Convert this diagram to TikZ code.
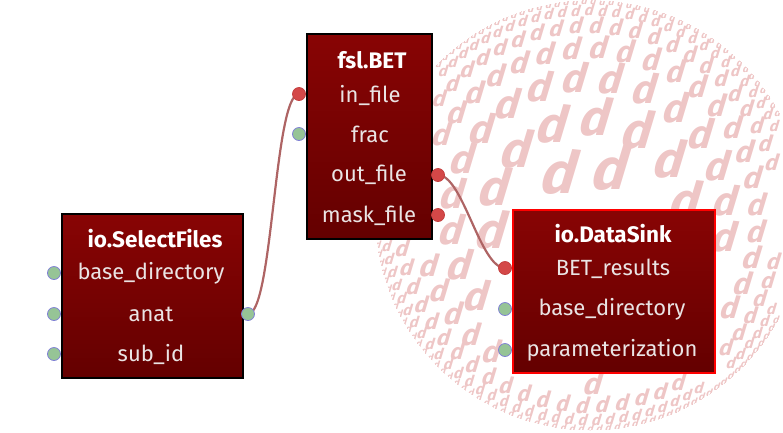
\documentclass[tikz,border=0pt]{standalone}
\usepackage{fontspec}
\setmainfont{Fira Sans}
\usetikzlibrary{backgrounds}

\definecolor{modtop}{RGB}{136,4,4}
\definecolor{modbot}{RGB}{100,0,0}
\definecolor{rowtext}{RGB}{234,228,228}
\definecolor{portgreen}{RGB}{150,196,150}
\definecolor{portblue}{RGB}{128,128,214}
\definecolor{portred}{RGB}{212,72,72}
\definecolor{portredline}{RGB}{196,64,64}
\definecolor{wirecol}{RGB}{174,100,100}
\definecolor{wmcol}{RGB}{238,198,198}

\tikzset{
  modbox/.style={draw=black, line width=1.5pt, top color=modtop, bottom color=modbot,
    anchor=north west, inner sep=0pt},
  modtitle/.style={text=white, font=\fontsize{22.5}{22.5}\selectfont\bfseries},
  portlabel/.style={text=rowtext, font=\fontsize{22}{22}\selectfont},
  freeport/.style={circle, draw=portblue, fill=portgreen, line width=0.8pt,
    minimum size=13pt, inner sep=0pt},
  linkport/.style={circle, draw=portredline, fill=portred, line width=0.8pt,
    minimum size=13pt, inner sep=0pt},
  wire/.style={draw=wirecol, line width=2.2pt},
  wmark/.style={text=wmcol, inner sep=0pt, xslant=0.3}
}

\begin{document}
\begin{tikzpicture}[x=1pt,y=-1pt]
\useasboundingbox (0,0) rectangle (783,432);

% io.SelectFiles
\node[modbox, minimum width=181pt, minimum height=164pt] (selectfiles) at (61,213) {};
\node[modtitle] (sf-title) at (155,239) {io.SelectFiles};
\node[portlabel] (sf-base) at (151,273) {base\_directory};
\node[portlabel] (sf-anat) at (151,314) {anat};
\node[portlabel] (sf-subid) at (151,354) {sub\_id};
\node[freeport] (sf-base-in) at (54,273) {};
\node[freeport] (sf-anat-in) at (54,314) {};
\node[freeport] (sf-subid-in) at (54,354) {};
\node[freeport] (sf-anat-out) at (248,314) {};

% fsl.BET
\node[modbox, minimum width=125pt, minimum height=205pt] (bet) at (306,33) {};
\node[modtitle] (bet-title) at (372,60) {fsl.BET};
\node[portlabel] (bet-in) at (370,95) {in\_file};
\node[portlabel] (bet-frac) at (370,134) {frac};
\node[portlabel] (bet-out) at (369,175) {out\_file};
\node[portlabel] (bet-mask) at (369,216) {mask\_file};
\node[linkport] (bet-in-in) at (299,94) {};
\node[freeport] (bet-frac-in) at (299,134) {};
\node[linkport] (bet-out-out) at (438,175) {};
\node[linkport] (bet-mask-out) at (438,215) {};

% io.DataSink
\node[modbox, draw=red, minimum width=202pt, minimum height=163pt] (datasink) at (512,209) {};
\node[modtitle] (ds-title) at (613,234) {io.DataSink};
\node[portlabel] (ds-bet) at (613,269) {BET\_results};
\node[portlabel] (ds-base) at (612,309) {base\_directory};
\node[portlabel] (ds-param) at (612,350) {parameterization};
\node[linkport] (ds-bet-in) at (505,268) {};
\node[freeport] (ds-base-in) at (505,309) {};
\node[freeport] (ds-param-in) at (505,350) {};

% watermark + wires behind
\begin{scope}[on background layer]
\begin{scope}
\clip (590,215) circle (215);
\foreach \r/\s in {0/62, 52/58, 98/50, 138/40, 168/30, 190/22, 205/15, 214/10} {
  \pgfmathtruncatemacro{\n}{max(1,round(2*pi*\r/(0.9*\s)))}
  \pgfmathsetmacro{\da}{360/\n}
  \pgfmathsetmacro{\off}{mod(23*\r,360)}
  \foreach \k in {1,...,\n} {
    \pgfmathsetmacro{\px}{590+\r*cos(\da*\k+\off)}
    \pgfmathsetmacro{\py}{215+\r*sin(\da*\k+\off)}
    % letters hidden by a box or cut by the page edge are left out
    \pgfmathtruncatemacro{\hide}{(\px>500 && \px<722 && \py>200 && \py<382)
      || (\px<436 && \py<242) || (\px+0.35*\s>783)}
    \ifnum\hide=0
      \node[wmark, font=\fontsize{\s}{\s}\selectfont\bfseries] (wm-\r-\k) at (\px,\py) {d};
    \fi
  }
}
\end{scope}
\draw[wire] (sf-anat-out.center) .. controls +(25,0) and +(-25,0) .. (bet-in-in.center);
\draw[wire] (bet-out-out.center) .. controls +(25,0) and +(-25,0) .. (ds-bet-in.center);
\end{scope}
\end{tikzpicture}
\end{document}
